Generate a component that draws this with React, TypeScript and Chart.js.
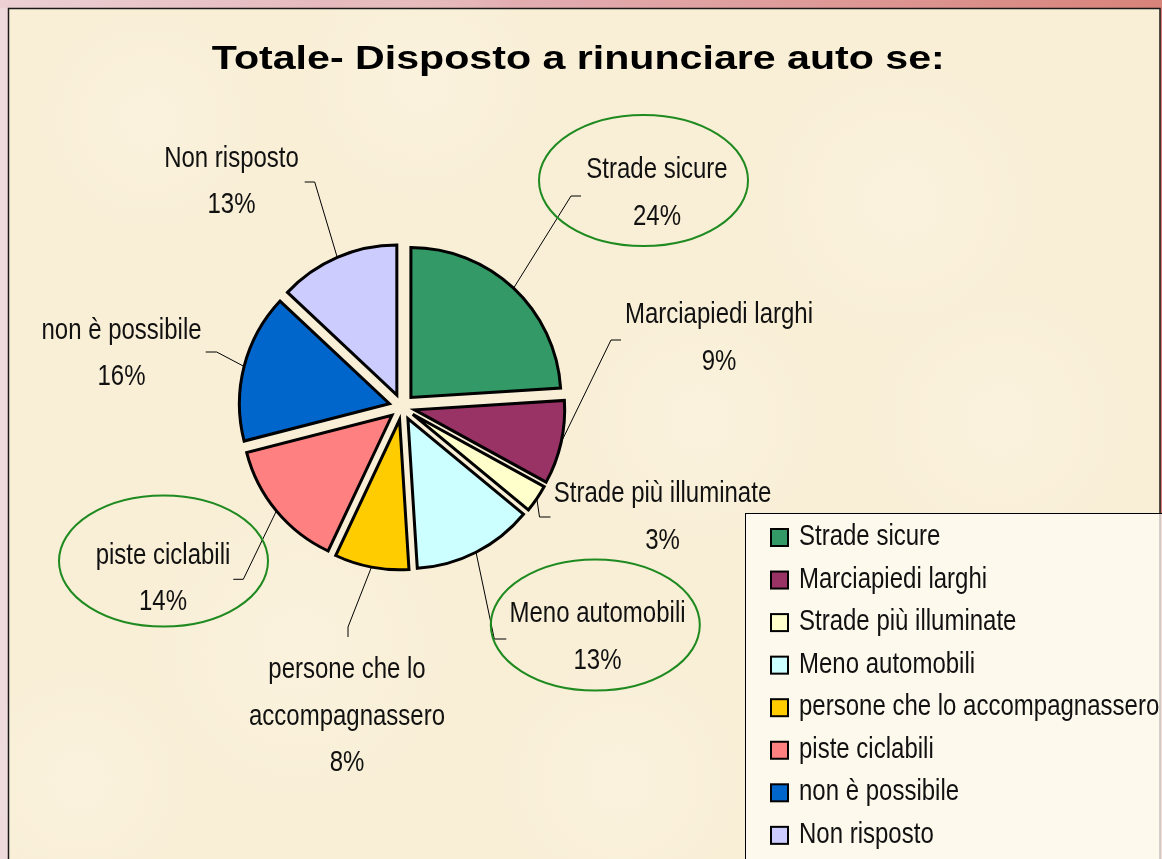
import React, { useEffect, useRef } from "react";
import { Chart, registerables } from "chart.js";

Chart.register(...registerables);

// ---- data ----
const TITLE = "Totale- Disposto a rinunciare auto se:";
const CATEGORIES = [
  "Strade sicure",
  "Marciapiedi larghi",
  "Strade più illuminate",
  "Meno automobili",
  "persone che lo accompagnassero",
  "piste ciclabili",
  "non è possibile",
  "Non risposto",
];
const VALUES = [24, 9, 3, 13, 8, 14, 16, 13];
const COLORS = ["#339966", "#993366", "#FFFFCC", "#CCFFFF", "#FFCC00", "#FF8080", "#0066CC", "#CCCCFF"];
const CIRCLED = [true, false, false, true, false, true, false, false];

// ---- layout (label placement relative to pie centre) ----
type LabelLayout = { tx: number; ty: number; ex: number; ey: number; tdx: number; tdy: number; ell?: [number, number] };
const LABEL_LAYOUT: LabelLayout[] = [
  { tx: 255, ty: -239, ex: 169, ey: -211, tdx: 10, tdy: 0, ell: [241.5, -226.5] },
  { tx: 317, ty: -94, ex: 209, ey: -67, tdx: 10, tdy: 0 },
  { tx: 260.5, ty: 85, ex: 137.5, ey: 110, tdx: 11, tdy: 0 },
  { tx: 195.5, ty: 205, ex: 92.3, ey: 232, tdx: 12, tdy: 0, ell: [193.3, 218] },
  { tx: -55, ty: 261, ex: -54, ey: 220, tdx: 0, tdy: 10 },
  { tx: -239, ty: 146.3, ex: -158.7, ey: 172.3, tdx: -10, tdy: 0, ell: [-238.5, 154] },
  { tx: -280.5, ty: -78.7, ex: -185.3, ey: -55, tdx: -11, tdy: 0 },
  { tx: -170.5, ty: -250.3, ex: -87.3, ey: -225, tdx: -10, tdy: 0 },
];

const W = 1162;
const H = 859;
const EXPLODE = 13;
const RADIUS = 150;
const LABEL_FONT = '30px "Liberation Sans", Arial, sans-serif';
const NARROW = 0.8;
const LINE_H = 46.5;
const LABEL_DY = 2;
const ELL_RX = 104.5;
const ELL_RY = 65.5;

function narrowText(ctx: CanvasRenderingContext2D, text: string, x: number, y: number, sx: number) {
  ctx.save();
  ctx.translate(x, y);
  ctx.scale(sx, 1);
  ctx.fillText(text, 0, 0);
  ctx.restore();
}

function wrap(ctx: CanvasRenderingContext2D, text: string, maxW: number): string[] {
  const words = text.split(" ");
  const lines: string[] = [];
  let cur = "";
  for (const w of words) {
    const test = cur ? cur + " " + w : w;
    if (cur && ctx.measureText(test).width * NARROW > maxW) {
      lines.push(cur);
      cur = w;
    } else cur = test;
  }
  if (cur) lines.push(cur);
  return lines;
}

const decoPlugin = {
  id: "deco",
  beforeDraw(chart: any) {
    const ctx: CanvasRenderingContext2D = chart.ctx;
    ctx.save();
    const g = ctx.createLinearGradient(0, 0, W, 0);
    g.addColorStop(0, "#EBD0D4");
    g.addColorStop(0.5, "#E2A9AC");
    g.addColorStop(1, "#D8837A");
    ctx.fillStyle = g;
    ctx.fillRect(0, 0, W, H);
    ctx.fillStyle = "#EED9DC";
    ctx.fillRect(0, 8, 8, H);
    ctx.fillStyle = "#F9EFD7";
    ctx.fillRect(8, 8, 1152, H);
    // subtle texture blotches
    const blotches = [
      [150, 120, 110], [420, 80, 120], [900, 200, 140], [1000, 420, 130], [300, 650, 150], [620, 780, 120], [80, 780, 110], [700, 420, 120],
    ];
    for (const [bx, by, br] of blotches) {
      const rg = ctx.createRadialGradient(bx, by, 0, bx, by, br);
      rg.addColorStop(0, "rgba(255,250,238,0.3)");
      rg.addColorStop(1, "rgba(255,250,238,0)");
      ctx.fillStyle = rg;
      ctx.fillRect(bx - br, by - br, br * 2, br * 2);
    }
    ctx.strokeStyle = "#1a1a1a";
    ctx.lineWidth = 1.5;
    ctx.beginPath();
    ctx.moveTo(8.5, H);
    ctx.lineTo(8.5, 8.5);
    ctx.lineTo(1160, 8.5);
    ctx.lineTo(1160, H);
    ctx.stroke();
    ctx.restore();
  },
  beforeDatasetDraw(chart: any, args: any) {
    const ctx: CanvasRenderingContext2D = chart.ctx;
    const meta = args.meta;
    meta.data.forEach((arc: any) => {
      const mid = (arc.startAngle + arc.endAngle) / 2;
      ctx.save();
      ctx.translate(Math.cos(mid) * EXPLODE, Math.sin(mid) * EXPLODE);
      arc.draw(ctx, chart.chartArea);
      ctx.restore();
    });
    return false;
  },
  afterDraw(chart: any) {
    const ctx: CanvasRenderingContext2D = chart.ctx;
    const meta = chart.getDatasetMeta(0);
    const arcs = meta.data;
    const cx = arcs[0].x;
    const cy = arcs[0].y;
    const total = VALUES.reduce((a, b) => a + b, 0);

    ctx.save();
    // title
    ctx.font = 'bold 34px "Liberation Sans", Arial, sans-serif';
    ctx.fillStyle = "#000";
    ctx.textAlign = "center";
    ctx.textBaseline = "alphabetic";
    const tw = ctx.measureText(TITLE).width;
    narrowText(ctx, TITLE, 578.3, 69, 733 / tw);

    // labels
    ctx.font = LABEL_FONT;
    arcs.forEach((arc: any, i: number) => {
      const L = LABEL_LAYOUT[i];
      const mid = (arc.startAngle + arc.endAngle) / 2;
      const rr = EXPLODE + arc.outerRadius;
      const sx = cx + Math.cos(mid) * rr;
      const sy = cy + Math.sin(mid) * rr;
      const ex = cx + L.ex;
      const ey = cy + L.ey;
      ctx.strokeStyle = "#000";
      ctx.lineWidth = 1;
      ctx.beginPath();
      ctx.moveTo(sx, sy);
      ctx.lineTo(ex, ey);
      ctx.lineTo(ex + L.tdx, ey + L.tdy);
      ctx.stroke();
      if (CIRCLED[i] && L.ell) {
        ctx.strokeStyle = "#1F8A1F";
        ctx.lineWidth = 2;
        ctx.beginPath();
        ctx.ellipse(cx + L.ell[0], cy + L.ell[1], ELL_RX, ELL_RY, 0, 0, Math.PI * 2);
        ctx.stroke();
      }
      const pct = Math.round((VALUES[i] / total) * 100) + "%";
      const lines = [...wrap(ctx, CATEGORIES[i], 225), pct];
      ctx.fillStyle = "#111";
      ctx.textAlign = "center";
      ctx.textBaseline = "middle";
      lines.forEach((t, k) => narrowText(ctx, t, cx + L.tx, cy + L.ty + LABEL_DY + k * LINE_H, NARROW));
    });

    // legend
    const lx = 745;
    const ly = 513;
    ctx.fillStyle = "rgba(255,252,244,0.75)";
    ctx.fillRect(lx, ly, W - lx + 10, H - ly + 10);
    ctx.strokeStyle = "#000";
    ctx.lineWidth = 1;
    ctx.strokeRect(lx + 0.5, ly + 0.5, W - lx + 10, H - ly + 10);
    ctx.textAlign = "left";
    ctx.textBaseline = "alphabetic";
    CATEGORIES.forEach((name, i) => {
      const base = 545 + i * 42.55;
      ctx.fillStyle = COLORS[i];
      ctx.fillRect(771, base - 16, 17, 17);
      ctx.strokeStyle = "#000";
      ctx.lineWidth = 2;
      ctx.strokeRect(771, base - 16, 17, 17);
      ctx.fillStyle = "#111";
      narrowText(ctx, name, 799, base, NARROW);
    });
    ctx.restore();
  },
};

export default function App() {
  const ref = useRef<HTMLCanvasElement>(null);
  useEffect(() => {
    if (!ref.current) return;
    const chart = new Chart(ref.current, {
      type: "pie",
      data: {
        labels: CATEGORIES,
        datasets: [
          {
            data: VALUES,
            backgroundColor: COLORS,
            borderColor: "#000",
            borderWidth: 3,
            borderJoinStyle: "miter",
            offset: 0,
            hoverOffset: 0,
            radius: RADIUS,
          } as any,
        ],
      },
      options: {
        responsive: false,
        animation: false,
        events: [],
        radius: RADIUS,
        layout: { padding: { left: 202, right: 560, top: 207, bottom: 252 } },
        plugins: {
          legend: { display: false },
          title: { display: false },
          tooltip: { enabled: false },
        },
      } as any,
      plugins: [decoPlugin],
    });
    return () => chart.destroy();
  }, []);
  return (
    <div style={{ position: "fixed", left: 0, top: 0, width: W, height: H }}>
      <canvas ref={ref} width={W} height={H} style={{ display: "block", width: W, height: H }} />
    </div>
  );
}
